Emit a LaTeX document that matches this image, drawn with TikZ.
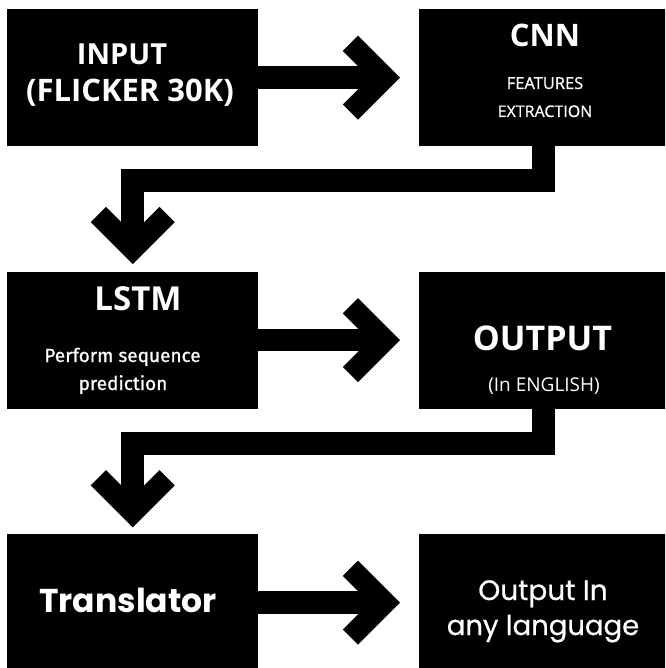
\documentclass[tikz,border=0pt]{standalone}
\usepackage{fontspec}
\setmainfont{Open Sans}
\newfontfamily\opmed[FakeBold=0.8]{Open Sans}
\newfontfamily\firafont[FakeBold=0.8]{Fira Sans}
\newfontfamily\popfont{Poppins}
\newfontfamily\popmed[FakeBold=0.6]{Poppins}
\usetikzlibrary{calc}
\tikzset{
  blk/.style={fill=black, draw=none, inner sep=0pt, minimum width=251pt, minimum height=137pt, anchor=north west},
  txt/.style={text=white, inner sep=0pt, anchor=base},
  shaft/.style={draw=black, line width=22.5pt, line join=miter, line cap=butt},
  chev/.pic={\fill[black] (0,0) -- (-42,-42) -- (-57.2,-26.8) -- (-30.4,0) -- (-57.2,26.8) -- (-42,42) -- cycle;}
}
\begin{document}
\begin{tikzpicture}[x=1pt,y=-1pt]
\useasboundingbox (0,0) rectangle (665,668);
\clip (0,0) rectangle (665,668);
% boxes
\node[blk] (inp) at (7,9) {};
\node[blk] (cnn) at (418.5,9) {};
\node[blk] (lstm) at (7,271.5) {};
\node[blk] (out) at (418.5,271.5) {};
\node[blk] (trn) at (7,534) {};
\node[blk] (any) at (418.5,534) {};
% texts
\node[txt] (t1) at (122,65) {\fontsize{29}{29}\selectfont\bfseries INPUT};
\node[txt] (t2) at (130,102) {\fontsize{31}{31}\selectfont\bfseries (FLICKER 30K)};
\node[txt] (t3) at (545,47) {\fontsize{31}{31}\selectfont\bfseries CNN};
\node[txt] (t4) at (545,89) {\opmed\fontsize{16.5}{16}\selectfont FEATURES};
\node[txt] (t5) at (545,117) {\opmed\fontsize{16}{16}\selectfont EXTRACTION};
\node[txt] (t6) at (138,310) {\fontsize{33}{33}\selectfont\bfseries LSTM};
\node[txt] (t7) at (122.5,362) {\firafont\fontsize{19}{19}\selectfont Perform sequence};
\node[txt] (t8) at (123,390) {\firafont\fontsize{19}{19}\selectfont prediction};
\node[txt] (t9) at (542.5,350) {\fontsize{34}{34}\selectfont\bfseries OUTPUT};
\node[txt] (t10) at (544,391) {\fontsize{19}{19}\selectfont (In ENGLISH)};
\node[txt] (t11) at (128,612) {\popfont\fontsize{33}{33}\selectfont\bfseries Translator};
\node[txt] (t12) at (543,600) {\popmed\fontsize{28}{28}\selectfont Output In};
\node[txt] (t13) at (543,635) {\popmed\fontsize{27.5}{28}\selectfont any language};
% horizontal connectors
\draw[shaft] (inp.east) -- ([xshift=-45pt]cnn.west);
\pic at ([xshift=-18.5pt]cnn.west) {chev};
\draw[shaft] (lstm.east) -- ([xshift=-45pt]out.west);
\pic at ([xshift=-18.5pt]out.west) {chev};
\draw[shaft] (trn.east) -- ([xshift=-45pt]any.west);
\pic at ([xshift=-18.5pt]any.west) {chev};
% elbow connectors
\coordinate (e1) at (543.7,180.5);
\coordinate (e2) at (132.7,180.5);
\draw[shaft] (cnn.south -| e1) -- (e1) -- (e2) -- ([yshift=33pt]lstm.north -| e2);
\pic[rotate=-90] at ([yshift=7.4pt]lstm.north -| e2) {chev};
\coordinate (e3) at (543.7,443.3);
\coordinate (e4) at (132.7,443.3);
\draw[shaft] (out.south -| e3) -- (e3) -- (e4) -- ([yshift=33pt]trn.north -| e4);
\pic[rotate=-90] at ([yshift=6.7pt]trn.north -| e4) {chev};
\end{tikzpicture}
\end{document}
